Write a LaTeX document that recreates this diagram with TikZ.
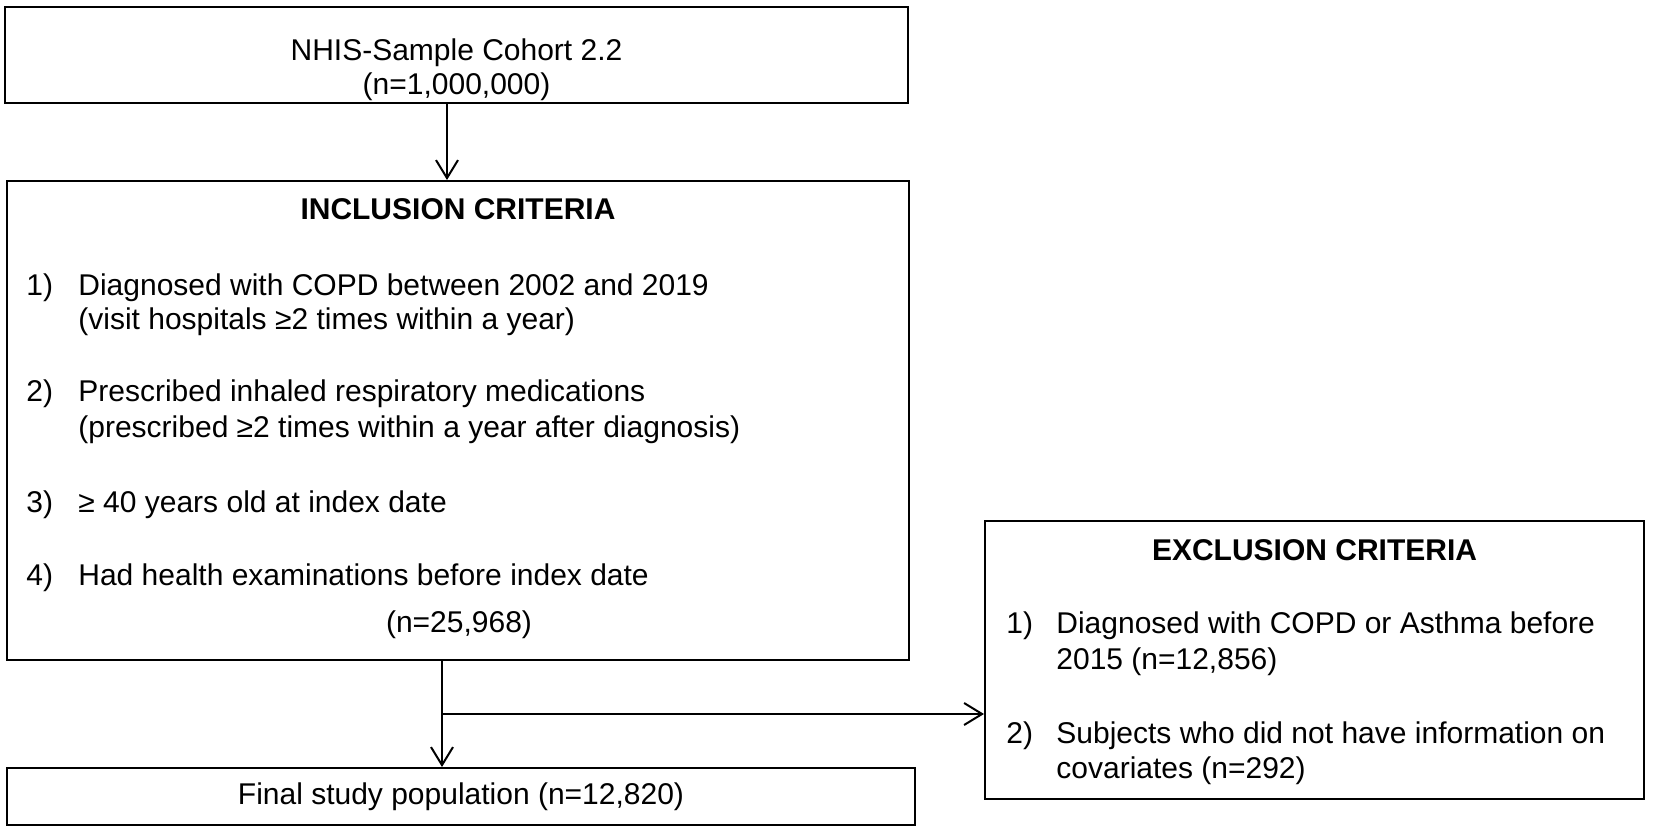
\documentclass[tikz,border=0pt]{standalone}
\usepackage{fontspec}
\setmainfont{Liberation Sans}
\usepackage{tikz}
\usetikzlibrary{arrows.meta}
\tikzstyle{arrow} = [line width=1pt,-{Straight Barb[length=9pt,width=11pt]}]
\tikzstyle{box} = [draw, line width=1pt, inner sep=0pt]
\tikzstyle{txt} = [font=\fontsize{15pt}{17pt}\selectfont, inner sep=0pt]
\tikzstyle{item} = [txt, anchor=base west]

\begin{document}
\begin{tikzpicture}[x=0.5pt,y=-0.5pt]
        \useasboundingbox (0,0) rectangle (1653,833);
        % Boxes
        \node[box, minimum width=451.5pt, minimum height=48pt] (cohort) at (456.5,55) {};
        \node[box, minimum width=451pt, minimum height=239.5pt] (incl) at (458,420.5) {};
        \node[box, minimum width=454pt, minimum height=28.5pt] (final) at (461,796.5) {};
        \node[box, minimum width=329.5pt, minimum height=139pt] (excl) at (1314.5,660) {};
        % Source cohort
        \node[txt, anchor=base] (cohort1) at (456.5,61) {NHIS-Sample Cohort 2.2};
        \node[txt, anchor=base] (cohort2) at (456.5,95) {(n=1,000,000)};
        % Inclusion criteria
        \node[txt, anchor=base] (inctitle) at (458,220) {\bfseries INCLUSION CRITERIA};
        \node[item] (incn1) at (26,296) {1)};
        \node[item] (inc1a) at (78,296) {Diagnosed with COPD between 2002 and 2019};
        \node[item] (inc1b) at (78,330) {(visit hospitals ≥2 times within a year)};
        \node[item] (incn2) at (26,402) {2)};
        \node[item] (inc2a) at (78,402) {Prescribed inhaled respiratory medications};
        \node[item] (inc2b) at (78,438) {(prescribed ≥2 times within a year after diagnosis)};
        \node[item] (incn3) at (26,512) {3)};
        \node[item] (inc3a) at (78,512) {≥ 40 years old at index date};
        \node[item] (incn4) at (26,585) {4)};
        \node[item] (inc4a) at (78,585) {Had health examinations before index date};
        \node[txt, anchor=base] (incn) at (459,632) {(n=25,968)};
        % Exclusion criteria
        \node[txt, anchor=base] (exctitle) at (1314.5,560) {\bfseries EXCLUSION CRITERIA};
        \node[item] (excn1) at (1006,633) {1)};
        \node[item] (exc1a) at (1056,633) {Diagnosed with COPD or Asthma before};
        \node[item] (exc1b) at (1056,669) {2015 (n=12,856)};
        \node[item] (excn2) at (1006,743) {2)};
        \node[item] (exc2a) at (1056,743) {Subjects who did not have information on};
        \node[item] (exc2b) at (1056,778) {covariates (n=292)};
        % Final population
        \node[txt] (finaltxt) at (final.center) {Final study population (n=12,820)};
        % Arrows
        \coordinate (split) at (442,714);
        \draw[arrow] ([xshift=-4.75pt]cohort.south) -- ([xshift=-4.75pt]cohort.south |- incl.north);
        \draw[arrow] (incl.south -| split) -- (final.north -| split);
        \draw[arrow] (split) -- (split -| excl.west);
\end{tikzpicture}
\end{document}
